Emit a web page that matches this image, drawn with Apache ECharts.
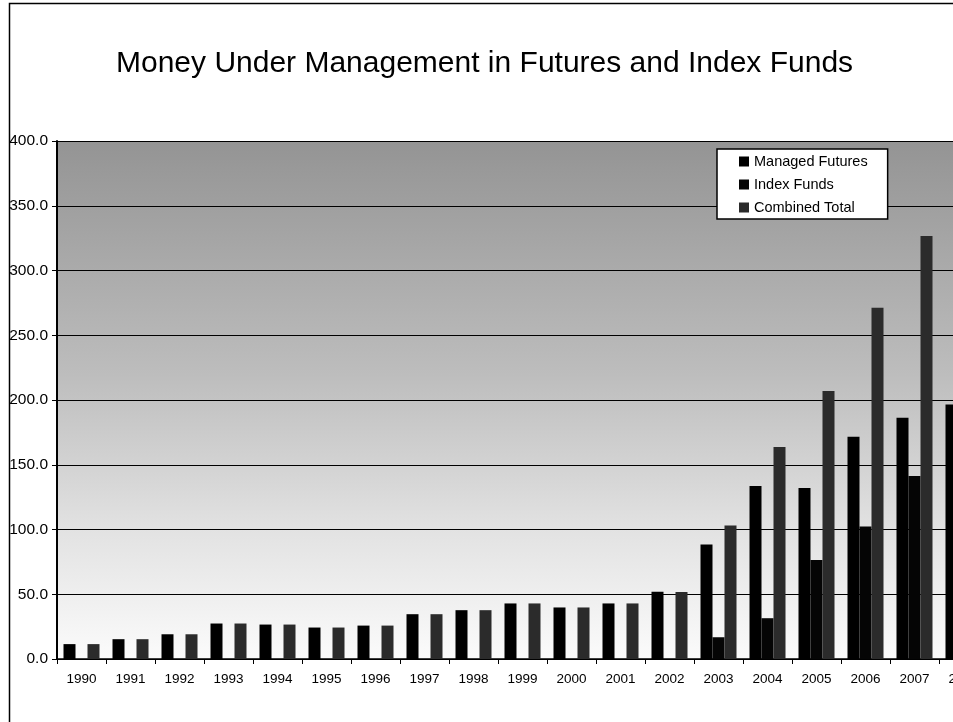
<!DOCTYPE html>
<html>
<head>
    <meta charset="UTF-8">
    <title>Money Under Management in Futures and Index Funds</title>
    <style>
        html, body {
            margin: 0;
            padding: 0;
            overflow: hidden;
            background: #fff;
        }
        #chart {
            width: 1000px;
            height: 722px;
        }
    </style>
    <script type="text/javascript" src="https://cdn.jsdelivr.net/npm/echarts/dist/echarts.min.js"></script>
</head>
<body>
<div id="chart"></div>
<script>
    // values (billions), 2008 index/combined are cut off in the source
    const years = ['1990', '1991', '1992', '1993', '1994', '1995', '1996', '1997', '1998', '1999',
        '2000', '2001', '2002', '2003', '2004', '2005', '2006', '2007', '2008'];
    const managedFutures = [11.5, 15.3, 19.1, 27.4, 26.6, 24.3, 25.8, 34.6, 37.7, 42.9,
        39.8, 42.9, 52.0, 88.4, 133.6, 132.0, 171.6, 186.3, 196.5];
    const indexFunds = [0, 0, 0, 0, 0, 0, 0, 0, 0, 0,
        0, 0, 0, 16.8, 31.5, 76.5, 102.3, 141.3, null];
    const combinedTotal = [11.5, 15.3, 19.1, 27.4, 26.6, 24.3, 25.8, 34.6, 37.7, 42.9,
        39.8, 42.9, 51.8, 103.1, 163.8, 207.0, 271.3, 326.6, null];
    const seriesNames = ['Managed Futures', 'Index Funds', 'Combined Total'];

    const font = 'Liberation Sans, Arial, sans-serif';
    let chart = echarts.init(document.getElementById('chart'), null, {renderer: 'canvas'});

    function bar(name, data, color) {
        return {
            name: name,
            type: 'bar',
            data: data,
            barWidth: 12,
            barGap: '0%',
            itemStyle: {color: color},
            animation: false
        };
    }

    let option = {
        animation: false,
        backgroundColor: '#fff',
        title: {
            text: 'Money Under Management in Futures and Index Funds',
            left: 116,
            top: 49,
            padding: 0,
            textStyle: {fontFamily: font, fontSize: 30, fontWeight: 'normal', color: '#000'}
        },
        graphic: [{
            type: 'rect',
            left: 7,
            top: 1,
            shape: {width: 1100, height: 800},
            style: {fill: null, stroke: '#000', lineWidth: 1.5},
            z: 100
        }],
        legend: {
            data: seriesNames,
            orient: 'vertical',
            left: 717,
            top: 149,
            padding: [5, 20, 4, 22],
            itemWidth: 10,
            itemHeight: 10,
            itemGap: 8,
            icon: 'rect',
            backgroundColor: '#fff',
            borderColor: '#000',
            borderWidth: 1.5,
            textStyle: {fontFamily: font, fontSize: 14.5, color: '#000'}
        },
        grid: {
            left: 57,
            right: 12,
            top: 141,
            bottom: 63,
            show: true,
            borderWidth: 0,
            backgroundColor: new echarts.graphic.LinearGradient(0, 0, 0, 1, [
                {offset: 0, color: '#949494'},
                {offset: 0.45, color: '#bdbdbd'},
                {offset: 0.75, color: '#e2e2e2'},
                {offset: 1, color: '#fbfbfb'}
            ])
        },
        xAxis: {
            type: 'category',
            data: years,
            axisLine: {lineStyle: {color: '#000', width: 1.5}},
            axisTick: {show: true, length: 5, lineStyle: {color: '#000'}},
            axisLabel: {fontFamily: font, fontSize: 13.5, color: '#000', margin: 13}
        },
        yAxis: {
            type: 'value',
            min: 0,
            max: 400,
            interval: 50,
            axisLine: {show: true, lineStyle: {color: '#000', width: 2}},
            axisTick: {show: true, length: 5, lineStyle: {color: '#000'}},
            axisLabel: {
                fontFamily: font, fontSize: 15.5, color: '#000', margin: 9,
                formatter: v => v.toFixed(1)
            },
            splitLine: {show: true, lineStyle: {color: '#000', width: 1.2}}
        },
        series: [
            bar(seriesNames[0], managedFutures, '#000000'),
            bar(seriesNames[1], indexFunds, '#050505'),
            bar(seriesNames[2], combinedTotal, '#2b2b2b')
        ]
    };
    chart.setOption(option);
</script>
</body>
</html>
